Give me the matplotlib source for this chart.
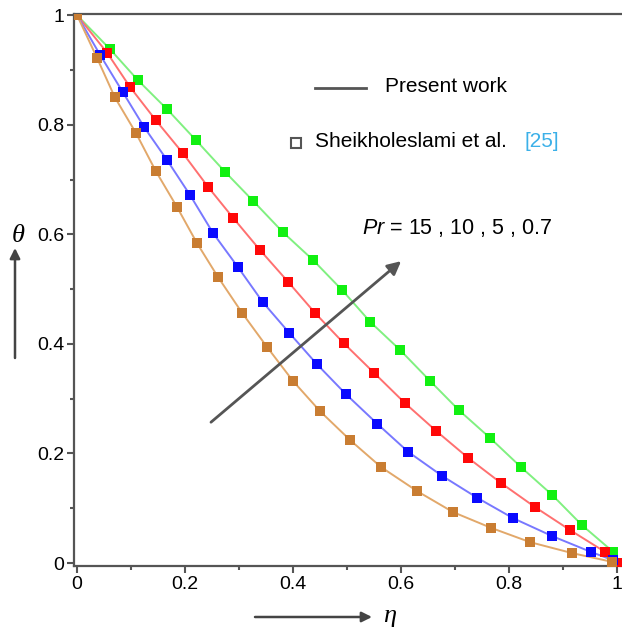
import matplotlib.pyplot as plt
from matplotlib.ticker import MultipleLocator

plt.rcParams['font.family'] = ['Liberation Sans', 'DejaVu Sans']
plt.rcParams['mathtext.fontset'] = 'custom'
plt.rcParams['mathtext.it'] = 'Liberation Sans:italic'
plt.rcParams['mathtext.rm'] = 'Liberation Sans'

# Temperature profiles theta(eta) for each Prandtl number
eta_07 = [0.0, 0.061, 0.113, 0.167, 0.220, 0.274, 0.326, 0.381, 0.437, 0.491,
          0.543, 0.598, 0.654, 0.707, 0.765, 0.822, 0.880, 0.935, 0.993]
theta_07 = [1.0, 0.938, 0.881, 0.828, 0.772, 0.714, 0.661, 0.604, 0.553, 0.498,
            0.440, 0.389, 0.332, 0.279, 0.228, 0.175, 0.124, 0.069, 0.020]

eta_5 = [0.0, 0.056, 0.098, 0.146, 0.196, 0.243, 0.289, 0.339, 0.391, 0.441,
         0.494, 0.550, 0.607, 0.665, 0.724, 0.785, 0.848, 0.913, 0.978, 1.0]
theta_5 = [1.0, 0.931, 0.869, 0.808, 0.748, 0.686, 0.630, 0.571, 0.513, 0.456,
           0.401, 0.347, 0.292, 0.241, 0.192, 0.146, 0.102, 0.060, 0.020, 0.0]

eta_10 = [0.0, 0.043, 0.085, 0.124, 0.167, 0.209, 0.252, 0.298, 0.344, 0.393,
          0.444, 0.498, 0.556, 0.613, 0.676, 0.741, 0.807, 0.880, 0.952, 0.993]
theta_10 = [1.0, 0.927, 0.859, 0.796, 0.735, 0.672, 0.602, 0.540, 0.476, 0.420,
            0.363, 0.308, 0.254, 0.203, 0.159, 0.119, 0.082, 0.049, 0.020, 0.005]

eta_15 = [0.0, 0.037, 0.070, 0.109, 0.146, 0.185, 0.222, 0.261, 0.306, 0.352,
          0.400, 0.450, 0.506, 0.563, 0.630, 0.696, 0.767, 0.839, 0.917, 0.991]
theta_15 = [1.0, 0.922, 0.850, 0.785, 0.715, 0.650, 0.584, 0.522, 0.456, 0.394,
            0.332, 0.277, 0.224, 0.175, 0.131, 0.093, 0.064, 0.038, 0.018, 0.002]

curves = [
    (eta_07, theta_07, '#80f080', '#11f011'),
    (eta_5, theta_5, '#ff7070', '#ff0808'),
    (eta_10, theta_10, '#7878ff', '#0a0aff'),
    (eta_15, theta_15, '#e2a86a', '#c97d32'),
]

fig = plt.figure(figsize=(6.22, 6.32), dpi=100)
ax = fig.add_axes([0.119, 0.1044, 0.881, 0.8742])

for x, y, lc, mc in curves:
    ax.plot(x, y, color=lc, linewidth=1.4, zorder=2)
    ax.plot(x, y, linestyle='none', marker='s', markersize=7.5,
            color=mc, markeredgewidth=0, zorder=3)

ax.set_xlim(-0.0056, 1.009)
ax.set_ylim(-0.0055, 1.003)

for side in ['left', 'bottom', 'top']:
    ax.spines[side].set_color('#555555')
    ax.spines[side].set_linewidth(1.6)
ax.spines['right'].set_visible(False)

ax.xaxis.set_minor_locator(MultipleLocator(0.1))
ax.yaxis.set_minor_locator(MultipleLocator(0.1))
ax.set_xticks([0, 0.2, 0.4, 0.6, 0.8, 1])
ax.set_xticklabels(['0', '0.2', '0.4', '0.6', '0.8', '1'])
ax.set_yticks([0, 0.2, 0.4, 0.6, 0.8, 1])
ax.set_yticklabels(['0', '0.2', '0.4', '0.6', '0.8', '1'])
ax.tick_params(which='major', length=5, width=1.5, color='#555555',
               labelsize=14, pad=2)
ax.tick_params(which='minor', length=3, width=1.5, color='#555555')

# Legend drawn by hand
ax.plot([0.44, 0.533], [0.866, 0.866], color='#555555', linewidth=2,
        transform=ax.transAxes, clip_on=False)
ax.text(0.567, 0.868, 'Present work', transform=ax.transAxes,
        fontsize=15, va='center', ha='left')
ax.plot([0.405], [0.766], marker='s', markersize=7, markerfacecolor='white',
        markeredgecolor='#555555', markeredgewidth=1.5,
        transform=ax.transAxes, clip_on=False)
ax.text(0.44, 0.768, 'Sheikholeslami et al.', transform=ax.transAxes,
        fontsize=15, va='center', ha='left')
ax.text(0.822, 0.768, '[25]', transform=ax.transAxes, color='#3bb0e8',
        fontsize=15, va='center', ha='left')

# Arrow showing increasing Pr direction
ax.annotate('', xy=(0.600, 0.551), xytext=(0.248, 0.257),
            arrowprops=dict(arrowstyle='-|>', color='#555555', lw=2,
                            mutation_scale=20, shrinkA=0, shrinkB=0))
ax.text(0.528, 0.611, r'$Pr$ = 15 , 10 , 5 , 0.7', fontsize=15.5,
        ha='left', va='center')

# Axis labels with arrows
fig.text(18 / 622, 1 - 236 / 632, 'θ', fontsize=19, fontstyle='italic',
         ha='center', va='center', family='Liberation Serif')
ax.annotate('', xy=(15 / 622, 1 - 248 / 632), xytext=(15 / 622, 1 - 358 / 632),
            xycoords='figure fraction', textcoords='figure fraction',
            arrowprops=dict(arrowstyle='-|>', color='#444444', lw=1.8,
                            mutation_scale=15, shrinkA=0, shrinkB=0))
ax.annotate('', xy=(372 / 622, 1 - 617 / 632), xytext=(255 / 622, 1 - 617 / 632),
            xycoords='figure fraction', textcoords='figure fraction',
            arrowprops=dict(arrowstyle='-|>', color='#444444', lw=1.8,
                            mutation_scale=15, shrinkA=0, shrinkB=0))
fig.text(390 / 622, 1 - 616 / 632, 'η', fontsize=19, fontstyle='italic',
         ha='center', va='center', family='Liberation Serif')

fig.savefig('out.png', dpi=100)
